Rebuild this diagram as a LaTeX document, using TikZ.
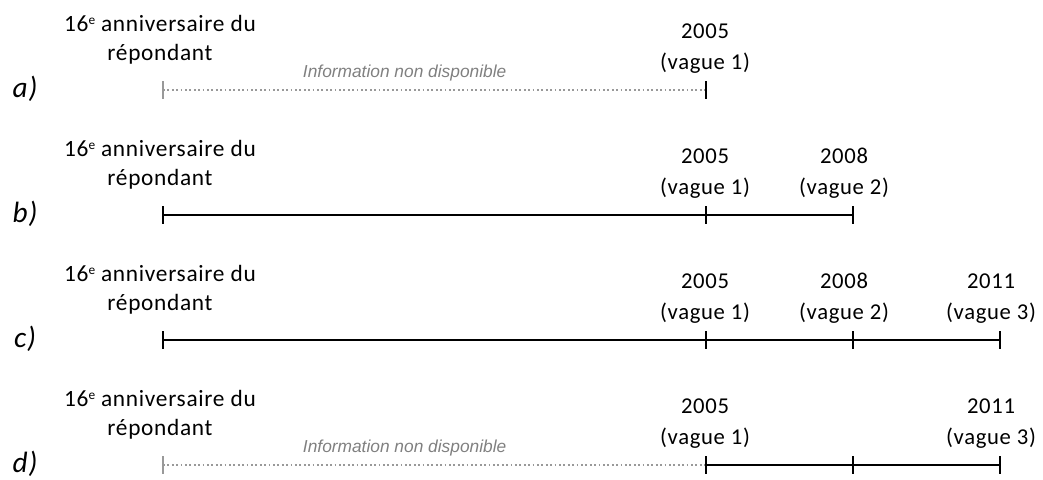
\documentclass[tikz,border=0pt]{standalone}
\usepackage{fontspec}
\setmainfont{Carlito}[LetterSpace=3]
\newfontfamily\infofont{Liberation Sans}
\definecolor{nogray}{rgb}{0.6, 0.6, 0.6}
\definecolor{infogray}{rgb}{0.5, 0.5, 0.5}
\newcommand{\eme}{\raisebox{0.62ex}{\fontsize{10}{10}\selectfont e}}

\begin{document}
\begin{tikzpicture}[x=0.75pt, y=-0.75pt,
    rowlbl/.style={font=\fontsize{22}{24}\selectfont\itshape},
    birth/.style={font=\fontsize{17.5}{21.5}\selectfont, align=center},
    wave/.style={font=\fontsize{17}{23}\selectfont, align=center, anchor=south},
    info/.style={font=\infofont\itshape\fontsize{13}{14}\selectfont, text=infogray},
    span/.style={line width=1.9pt},
    nodata/.style={nogray, dotted, line width=1.3pt},
    tick/.style={line width=1.5pt},
    notick/.style={nogray, line width=1.5pt}]

\useasboundingbox (0, 0) rectangle (1043, 479);

% a)
\node [rowlbl] (la) at (25, 89) {a)};
\node [birth] (ba) at (160, 40) {16\eme{} anniversaire du\\répondant};
\node [wave] (wa1) at (705, 78) {2005\\(vague 1)};
\coordinate (a0) at (163, 90);
\coordinate (a1) at (706, 90);
\draw [nodata] (a0) -- (a1) node [info, pos=0.445, above=3pt] (ia) {Information non disponible};
\draw [notick] (a0) ++(0, -9) -- ++(0, 18);
\draw [tick] (a1) ++(0, -9) -- ++(0, 18);

% b)
\node [rowlbl] (lb) at (25, 214) {b)};
\node [birth] (bb) at (160, 165) {16\eme{} anniversaire du\\répondant};
\node [wave] (wb1) at (705, 203) {2005\\(vague 1)};
\node [wave] (wb2) at (844, 203) {2008\\(vague 2)};
\coordinate (b0) at (163, 215);
\coordinate (b1) at (706, 215);
\coordinate (b2) at (853, 215);
\draw [span] (b0) -- (b2);
\foreach \t in {b0, b1, b2}
    \draw [tick] (\t) ++(0, -9) -- ++(0, 18);

% c)
\node [rowlbl] (lc) at (25, 339) {c)};
\node [birth] (bc) at (160, 290) {16\eme{} anniversaire du\\répondant};
\node [wave] (wc1) at (705, 328) {2005\\(vague 1)};
\node [wave] (wc2) at (844, 328) {2008\\(vague 2)};
\node [wave] (wc3) at (991, 328) {2011\\(vague 3)};
\coordinate (c0) at (163, 340);
\coordinate (c1) at (706, 340);
\coordinate (c2) at (853, 340);
\coordinate (c3) at (1000, 340);
\draw [span] (c0) -- (c3);
\foreach \t in {c0, c1, c2, c3}
    \draw [tick] (\t) ++(0, -9) -- ++(0, 18);

% d)
\node [rowlbl] (ld) at (25, 464) {d)};
\node [birth] (bd) at (160, 415) {16\eme{} anniversaire du\\répondant};
\node [wave] (wd1) at (705, 453) {2005\\(vague 1)};
\node [wave] (wd3) at (991, 453) {2011\\(vague 3)};
\coordinate (d0) at (163, 465);
\coordinate (d1) at (706, 465);
\coordinate (d2) at (853, 465);
\coordinate (d3) at (1000, 465);
\draw [nodata] (d0) -- (d1) node [info, pos=0.445, above=3pt] (id) {Information non disponible};
\draw [span] (d1) -- (d3);
\draw [notick] (d0) ++(0, -9) -- ++(0, 18);
\foreach \t in {d1, d2, d3}
    \draw [tick] (\t) ++(0, -9) -- ++(0, 18);
\end{tikzpicture}
\end{document}
